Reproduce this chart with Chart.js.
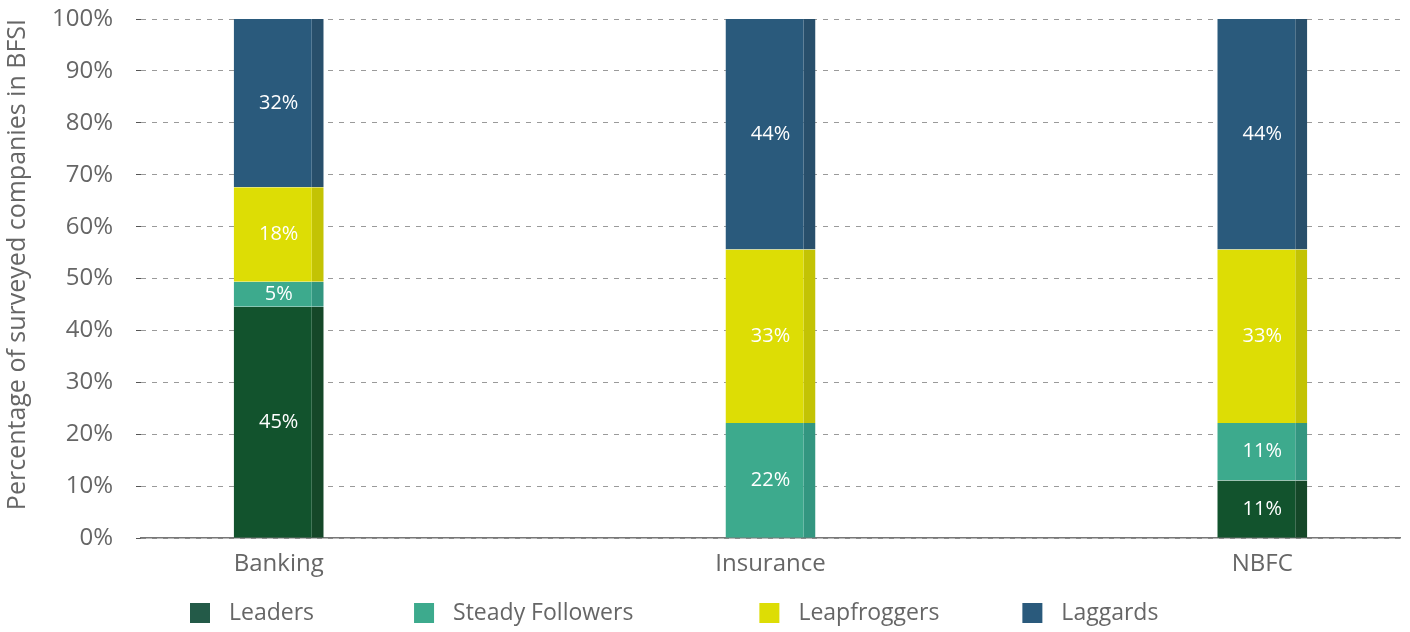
<!DOCTYPE html>
<html>
<head>
<meta charset="utf-8">
<script src="https://cdn.jsdelivr.net/npm/chart.js@4/dist/chart.umd.min.js"></script>
<style>
  html, body { margin: 0; padding: 0; background: #ffffff; }
  #wrap { width: 1410px; height: 632px; position: relative; }
</style>
</head>
<body>
<div id="wrap"><canvas id="c"></canvas></div>
<script>
const categories = ['Banking', 'Insurance', 'NBFC'];
const seriesNames = ['Leaders', 'Steady Followers', 'Leapfroggers', 'Laggards'];
const leaders = [44.6, 0, 11.1];
const steadyFollowers = [4.8, 22.2, 11.1];
const leapfroggers = [18.2, 33.4, 33.4];
const laggards = [32.4, 44.4, 44.4];
const yTicks = [0, 10, 20, 30, 40, 50, 60, 70, 80, 90, 100];

const barColors = ['#12532d', '#3daa8d', '#dddd05', '#2a5a7c'];
const edgeColors = ['#154728', '#339680', '#c3c304', '#284f6b'];
const legendColors = ['#235a48', '#3daa8d', '#dddd05', '#2a5a7c'];
const FONT = '"Open Sans", "Noto Sans", sans-serif';

const seriesValues = [leaders, steadyFollowers, leapfroggers, laggards];

const datasets = seriesNames.map((name, s) => ({
  label: name,
  data: seriesValues[s].map((v, i) => ({ x: i, y: v })),
  backgroundColor: barColors[s],
  borderColor: edgeColors[s],
  borderWidth: { top: 0, left: 0, bottom: 0, right: 12 },
  borderSkipped: false,
  barThickness: 90,
  inflateAmount: 0
}));

const valueLabels = {
  id: 'valueLabels',
  afterDatasetsDraw(chart) {
    const ctx = chart.ctx;
    ctx.save();
    ctx.font = '20px ' + FONT;
    ctx.fillStyle = '#ffffff';
    ctx.textAlign = 'center';
    ctx.textBaseline = 'middle';
    chart.data.datasets.forEach((ds, di) => {
      const meta = chart.getDatasetMeta(di);
      meta.data.forEach((bar, i) => {
        const v = ds.data[i].y;
        if (!v) return;
        const cy = (bar.y + bar.base) / 2;
        ctx.fillText(Math.round(v) + '%', bar.x, cy);
      });
    });
    ctx.restore();
  }
};

// legend drawn below the axis, in the space reserved by layout padding
const legendStyle = { startX: 190, y: 613, box: 20, textGap: 39, itemGaps: [100, 126, 83] };
const customLegend = {
  id: 'customLegend',
  afterDraw(chart) {
    const ctx = chart.ctx;
    ctx.save();
    ctx.font = '23px ' + FONT;
    ctx.textBaseline = 'middle';
    ctx.textAlign = 'left';
    let x = legendStyle.startX;
    chart.data.datasets.forEach((ds, i) => {
      ctx.fillStyle = legendColors[i];
      ctx.fillRect(x, legendStyle.y - legendStyle.box / 2, legendStyle.box, legendStyle.box);
      ctx.fillStyle = '#666666';
      ctx.fillText(ds.label, x + legendStyle.textGap, legendStyle.y);
      const w = ctx.measureText(ds.label).width;
      x += legendStyle.textGap + w + (legendStyle.itemGaps[i] || 0);
    });
    ctx.restore();
  }
};

new Chart(document.getElementById('c'), {
  type: 'bar',
  data: { datasets },
  options: {
    responsive: true,
    maintainAspectRatio: false,
    animation: false,
    layout: { padding: { left: 0, right: 10, top: 19, bottom: 49 } },
    plugins: {
      legend: { display: false },
      tooltip: { enabled: false }
    },
    scales: {
      x: {
        type: 'linear',
        stacked: true,
        min: -0.28,
        max: 2.28,
        offset: false,
        grid: { display: false },
        border: { display: true, color: '#777777', width: 1.5 },
        afterBuildTicks(scale) {
          scale.ticks = categories.map((c, i) => ({ value: i }));
        },
        ticks: {
          color: '#666666',
          padding: 4,
          font: { family: FONT, size: 24 },
          callback(v) { return categories[v]; }
        }
      },
      y: {
        stacked: true,
        min: 0,
        max: 100,
        afterBuildTicks(scale) {
          scale.ticks = yTicks.map(v => ({ value: v }));
        },
        afterFit(scale) {
          scale.width = 141;
          scale.paddingTop = 0;
          scale.paddingBottom = 0;
        },
        grid: {
          color: '#9a9a9a',
          lineWidth: 1,
          tickLength: 5,
          tickColor: '#555555',
          drawTicks: true
        },
        border: { display: false, dash: [5, 6] },
        ticks: {
          color: '#666666',
          padding: 23,
          font: { family: FONT, size: 24 },
          callback(v) { return v + '%'; }
        },
        title: {
          display: true,
          text: 'Percentage of surveyed companies in BFSI',
          align: 'end',
          color: '#666666',
          font: { family: FONT, size: 25 },
          padding: { top: 3, bottom: 0 }
        }
      }
    }
  },
  plugins: [valueLabels, customLegend]
});
</script>
</body>
</html>
